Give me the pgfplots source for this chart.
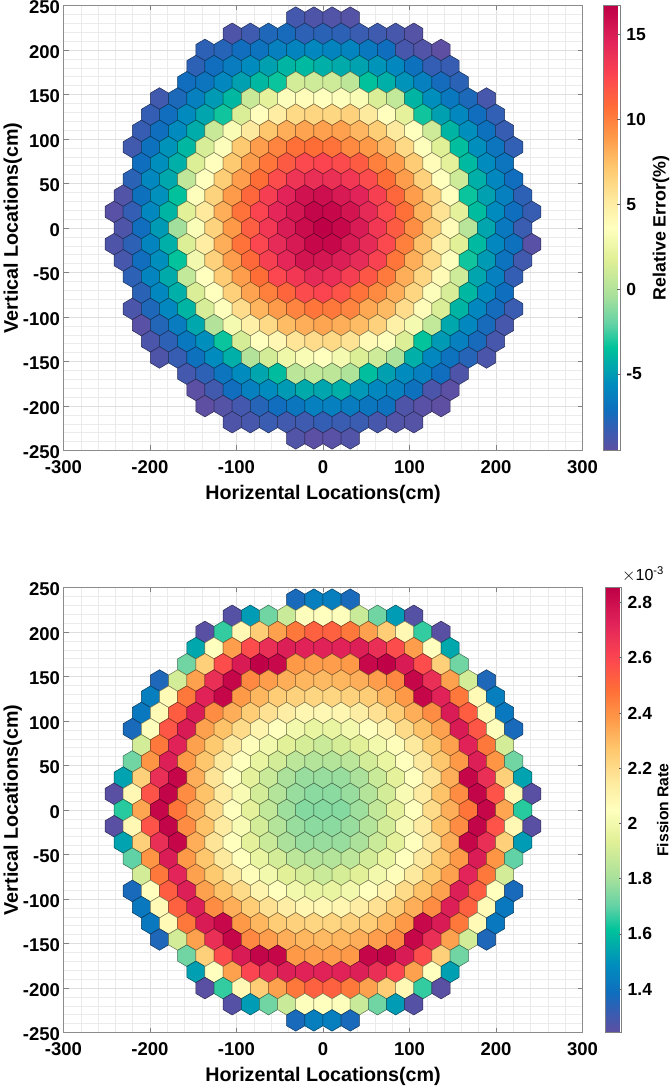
\documentclass[border=0pt]{standalone}
\usepackage{fontspec}
\setmainfont{Liberation Sans}
\usepackage{pgfplots}
\usepackage{pgfplotstable}
\pgfplotsset{compat=1.18}

% hexagon cell, sized in pt for the axis scale (21 cm pitch)
\pgfdeclareplotmark{hexcell}{%
  \pgfpathmoveto{\pgfpoint{0pt}{10.78pt}}%
  \pgfpathlineto{\pgfpoint{9.09pt}{5.39pt}}%
  \pgfpathlineto{\pgfpoint{9.09pt}{-5.39pt}}%
  \pgfpathlineto{\pgfpoint{0pt}{-10.78pt}}%
  \pgfpathlineto{\pgfpoint{-9.09pt}{-5.39pt}}%
  \pgfpathlineto{\pgfpoint{-9.09pt}{5.39pt}}%
  \pgfpathclose
  \pgfusepathqfillstroke}

\pgfplotsset{
  colormap={spectralr}{
    rgb255(0pt)=(94,79,162) rgb255(52pt)=(50,95,180) rgb255(90pt)=(15,110,190)
    rgb255(150pt)=(0,140,190) rgb255(195pt)=(0,170,170) rgb255(232pt)=(0,195,155)
    rgb255(285pt)=(100,210,165) rgb255(350pt)=(170,225,155) rgb255(430pt)=(225,240,150)
    rgb255(500pt)=(255,255,190) rgb255(560pt)=(254,235,160) rgb255(635pt)=(254,200,110)
    rgb255(710pt)=(254,150,70) rgb255(770pt)=(255,110,55) rgb255(840pt)=(252,70,80)
    rgb255(920pt)=(225,35,90) rgb255(1000pt)=(190,0,70)},
  hexaxis/.style={
    scale only axis, width=519pt, height=445pt,
    anchor=south west,
    xmin=-300, xmax=300, ymin=-250, ymax=250,
    xtick={-300,-200,...,300}, ytick={-250,-200,...,250},
    minor x tick num=4, minor y tick num=4,
    grid=both,
    major grid style={black!13, line width=0.6pt},
    minor grid style={black!8, line width=0.5pt},
    tick align=inside, major tick length=5pt, minor tick length=0pt,
    tick style={color=gray, line width=0.7pt},
    axis line style={color=black!45, line width=1.1pt},
    /pgf/number format/assume math mode=true,
    tick label style={font=\fontsize{18.5}{18.5}\selectfont\bfseries},
    xticklabel style={yshift=-7pt},
    yticklabel style={yshift=-2pt},
    label style={font=\fontsize{19.7}{19.7}\selectfont\bfseries},
    xlabel={Horizental Locations(cm)},
    ylabel={Vertical Locations(cm)},
    xlabel shift=4pt, ylabel shift=-6pt,
    scatter/use mapped color={draw=mapped color!50!black, fill=mapped color},
  },
  cbstyle/.style={
    anchor=north west, width=17pt,
    /pgf/number format/assume math mode=true,
    tick align=inside, major tick length=3pt,
    tick style={color=black!60, line width=0.7pt},
    axis line style={color=black!50, line width=0.8pt},
    ytick pos=right, yticklabel pos=right,
    tick label style={font=\fontsize{17.5}{17.5}\selectfont\bfseries},
    yticklabel style={xshift=2.5pt},
    ylabel shift=0pt,
  },
}

% x y, relative error (%), fission rate (1e-3)
\pgfplotstableread{
x y err rate
-31.5 236.4 -8.7 1.37
-10.5 236.4 -9.0 1.44
10.5 236.4 -9.1 1.44
31.5 236.4 -9.2 1.37
-105 218.2 -9.0 1.26
-84 218.2 -8.5 1.52
-63 218.2 -7.6 1.72
-42 218.2 -7.4 1.88
-21 218.2 -8.0 2.04
0 218.2 -7.9 2.05
21 218.2 -8.0 2.04
42 218.2 -8.4 1.88
63 218.2 -8.5 1.72
84 218.2 -8.8 1.52
105 218.2 -9.2 1.26
-136.5 200.1 -8.0 1.25
-115.5 200.1 -7.8 1.66
-94.5 200.1 -7.2 2.08
-73.5 200.1 -6.9 2.25
-52.5 200.1 -6.2 2.36
-31.5 200.1 -6.0 2.46
-10.5 200.1 -5.8 2.52
10.5 200.1 -6.0 2.52
31.5 200.1 -6.0 2.46
52.5 200.1 -6.6 2.36
73.5 200.1 -7.1 2.25
94.5 200.1 -8.8 2.08
115.5 200.1 -9.1 1.66
136.5 200.1 -9.5 1.25
-147 181.9 -8.0 1.55
-126 181.9 -7.2 2.05
-105 181.9 -6.4 2.37
-84 181.9 -5.6 2.58
-63 181.9 -4.8 2.68
-42 181.9 -4.0 2.74
-21 181.9 -3.8 2.73
0 181.9 -4.2 2.73
21 181.9 -4.4 2.73
42 181.9 -4.7 2.74
63 181.9 -5.2 2.68
84 181.9 -5.8 2.58
105 181.9 -7.0 2.37
126 181.9 -8.2 2.05
147 181.9 -8.3 1.55
-157.5 163.7 -7.2 1.72
-136.5 163.7 -6.8 2.24
-115.5 163.7 -5.8 2.58
-94.5 163.7 -4.8 2.76
-73.5 163.7 -3.9 2.85
-52.5 163.7 -3.3 2.82
-31.5 163.7 1.2 2.38
-10.5 163.7 1.0 2.37
10.5 163.7 1.0 2.37
31.5 163.7 0.4 2.38
52.5 163.7 -3.5 2.82
73.5 163.7 -4.2 2.85
94.5 163.7 -5.3 2.76
115.5 163.7 -6.2 2.58
136.5 163.7 -7.3 2.24
157.5 163.7 -7.9 1.72
-189 145.5 -8.6 1.36
-168 145.5 -7.5 1.90
-147 145.5 -6.2 2.36
-126 145.5 -5.0 2.68
-105 145.5 -3.9 2.83
-84 145.5 0.8 2.42
-63 145.5 2.0 2.37
-42 145.5 3.4 2.33
-21 145.5 3.8 2.31
0 145.5 3.6 2.30
21 145.5 3.5 2.31
42 145.5 3.2 2.33
63 145.5 1.5 2.37
84 145.5 0.6 2.42
105 145.5 -4.0 2.83
126 145.5 -5.5 2.68
147 145.5 -6.6 2.36
168 145.5 -7.5 1.90
189 145.5 -8.8 1.36
-199.5 127.3 -8.2 1.44
-178.5 127.3 -7.2 2.07
-157.5 127.3 -5.7 2.46
-136.5 127.3 -4.6 2.73
-115.5 127.3 -3.2 2.83
-94.5 127.3 1.5 2.38
-73.5 127.3 3.7 2.31
-52.5 127.3 5.0 2.25
-31.5 127.3 6.2 2.23
-10.5 127.3 6.4 2.22
10.5 127.3 6.3 2.22
31.5 127.3 6.6 2.23
52.5 127.3 5.2 2.25
73.5 127.3 3.7 2.31
94.5 127.3 2.0 2.38
115.5 127.3 -3.2 2.83
136.5 127.3 -4.8 2.73
157.5 127.3 -5.8 2.46
178.5 127.3 -7.2 2.07
199.5 127.3 -8.1 1.44
-210 109.1 -8.3 1.42
-189 109.1 -7.1 2.07
-168 109.1 -5.7 2.53
-147 109.1 -4.3 2.75
-126 109.1 0.8 2.41
-105 109.1 3.2 2.33
-84 109.1 5.2 2.25
-63 109.1 7.2 2.18
-42 109.1 8.2 2.13
-21 109.1 8.6 2.09
0 109.1 8.7 2.08
21 109.1 8.7 2.09
42 109.1 7.8 2.13
63 109.1 6.8 2.18
84 109.1 5.2 2.25
105 109.1 3.6 2.33
126 109.1 1.0 2.41
147 109.1 -4.0 2.75
168 109.1 -5.5 2.53
189 109.1 -7.0 2.07
210 109.1 -8.3 1.42
-220.5 90.9 -8.6 1.37
-199.5 90.9 -7.0 2.04
-178.5 90.9 -5.3 2.55
-157.5 90.9 -3.9 2.76
-136.5 90.9 1.4 2.36
-115.5 90.9 3.4 2.28
-94.5 90.9 7.0 2.20
-73.5 90.9 8.8 2.10
-52.5 90.9 9.8 2.05
-31.5 90.9 10.6 2.00
-10.5 90.9 10.7 1.97
10.5 90.9 10.5 1.97
31.5 90.9 9.6 2.00
52.5 90.9 9.0 2.05
73.5 90.9 7.8 2.10
94.5 90.9 6.2 2.20
115.5 90.9 3.5 2.28
136.5 90.9 1.7 2.36
157.5 90.9 -3.6 2.76
178.5 90.9 -5.5 2.55
199.5 90.9 -6.8 2.04
220.5 90.9 -8.1 1.37
-210 72.7 -7.1 1.90
-189 72.7 -5.5 2.46
-168 72.7 -4.2 2.73
-147 72.7 1.6 2.36
-126 72.7 3.7 2.26
-105 72.7 7.0 2.15
-84 72.7 8.8 2.06
-63 72.7 10.4 2.00
-42 72.7 11.6 1.94
-21 72.7 12.4 1.91
0 72.7 12.6 1.88
21 72.7 12.3 1.91
42 72.7 11.5 1.94
63 72.7 10.0 2.00
84 72.7 8.8 2.06
105 72.7 6.9 2.15
126 72.7 3.8 2.26
147 72.7 2.0 2.36
168 72.7 -3.8 2.73
189 72.7 -5.6 2.46
210 72.7 -6.8 1.90
-220.5 54.6 -7.9 1.72
-199.5 54.6 -5.8 2.39
-178.5 54.6 -4.5 2.74
-157.5 54.6 0.5 2.38
-136.5 54.6 3.6 2.27
-115.5 54.6 6.8 2.15
-94.5 54.6 8.8 2.05
-73.5 54.6 10.7 1.97
-52.5 54.6 12.2 1.90
-31.5 54.6 13.5 1.85
-10.5 54.6 13.9 1.83
10.5 54.6 13.8 1.83
31.5 54.6 13.4 1.85
52.5 54.6 12.3 1.90
73.5 54.6 10.7 1.97
94.5 54.6 8.8 2.05
115.5 54.6 6.6 2.15
136.5 54.6 3.6 2.27
157.5 54.6 1.0 2.38
178.5 54.6 -4.2 2.74
199.5 54.6 -5.8 2.39
220.5 54.6 -7.2 1.72
-231 36.4 -9.1 1.54
-210 36.4 -7.0 2.24
-189 36.4 -5.4 2.68
-168 36.4 -3.5 2.83
-147 36.4 3.5 2.33
-126 36.4 6.5 2.17
-105 36.4 8.9 2.05
-84 36.4 11.0 1.95
-63 36.4 13.0 1.88
-42 36.4 14.6 1.81
-21 36.4 15.6 1.78
0 36.4 15.8 1.78
21 36.4 15.2 1.78
42 36.4 14.6 1.81
63 36.4 12.9 1.88
84 36.4 11.0 1.95
105 36.4 8.8 2.05
126 36.4 6.6 2.17
147 36.4 3.6 2.33
168 36.4 -3.3 2.83
189 36.4 -4.8 2.68
210 36.4 -6.2 2.24
231 36.4 -8.0 1.54
-241.5 18.2 -9.3 1.25
-220.5 18.2 -8.2 2.08
-199.5 18.2 -5.8 2.56
-178.5 18.2 -4.0 2.84
-157.5 18.2 1.8 2.41
-136.5 18.2 5.3 2.28
-115.5 18.2 8.2 2.14
-94.5 18.2 10.5 2.02
-73.5 18.2 12.6 1.90
-52.5 18.2 14.4 1.83
-31.5 18.2 15.4 1.78
-10.5 18.2 16.4 1.76
10.5 18.2 16.2 1.76
31.5 18.2 15.5 1.78
52.5 18.2 14.2 1.83
73.5 18.2 12.4 1.90
94.5 18.2 10.6 2.02
115.5 18.2 8.0 2.14
136.5 18.2 5.6 2.28
157.5 18.2 2.0 2.41
178.5 18.2 -3.7 2.84
199.5 18.2 -5.6 2.56
220.5 18.2 -7.1 2.08
241.5 18.2 -8.3 1.25
-231 0 -9.0 1.65
-210 0 -7.2 2.35
-189 0 -5.0 2.83
-168 0 -0.5 2.47
-147 0 3.3 2.33
-126 0 6.5 2.20
-105 0 9.0 2.05
-84 0 11.4 1.95
-63 0 13.4 1.86
-42 0 15.0 1.79
-21 0 16.0 1.75
0 0 16.7 1.75
21 0 16.2 1.75
42 0 15.1 1.79
63 0 13.4 1.86
84 0 11.5 1.95
105 0 9.4 2.05
126 0 6.8 2.20
147 0 3.8 2.33
168 0 0.2 2.47
189 0 -4.6 2.83
210 0 -6.6 2.35
231 0 -8.4 1.65
-241.5 -18.2 -9.0 1.25
-220.5 -18.2 -8.0 2.08
-199.5 -18.2 -6.0 2.56
-178.5 -18.2 -4.2 2.84
-157.5 -18.2 1.6 2.41
-136.5 -18.2 5.0 2.28
-115.5 -18.2 8.2 2.14
-94.5 -18.2 10.5 2.02
-73.5 -18.2 12.5 1.90
-52.5 -18.2 14.1 1.83
-31.5 -18.2 15.2 1.78
-10.5 -18.2 16.2 1.76
10.5 -18.2 16.2 1.76
31.5 -18.2 15.2 1.78
52.5 -18.2 14.2 1.83
73.5 -18.2 12.4 1.90
94.5 -18.2 10.0 2.02
115.5 -18.2 7.4 2.14
136.5 -18.2 4.8 2.28
157.5 -18.2 1.8 2.41
178.5 -18.2 -3.8 2.84
199.5 -18.2 -5.8 2.56
220.5 -18.2 -7.0 2.08
241.5 -18.2 -9.3 1.25
-231 -36.4 -8.8 1.54
-210 -36.4 -7.2 2.24
-189 -36.4 -5.5 2.68
-168 -36.4 -3.4 2.83
-147 -36.4 2.8 2.33
-126 -36.4 6.6 2.17
-105 -36.4 8.8 2.05
-84 -36.4 10.9 1.95
-63 -36.4 12.9 1.88
-42 -36.4 14.4 1.81
-21 -36.4 15.5 1.78
0 -36.4 15.4 1.78
21 -36.4 14.9 1.78
42 -36.4 14.1 1.81
63 -36.4 12.8 1.88
84 -36.4 10.4 1.95
105 -36.4 8.2 2.05
126 -36.4 6.2 2.17
147 -36.4 3.5 2.33
168 -36.4 -3.2 2.83
189 -36.4 -5.0 2.68
210 -36.4 -6.9 2.24
231 -36.4 -8.6 1.52
-220.5 -54.6 -8.0 1.70
-199.5 -54.6 -6.0 2.39
-178.5 -54.6 -4.4 2.75
-157.5 -54.6 0.6 2.38
-136.5 -54.6 3.6 2.27
-115.5 -54.6 6.9 2.15
-94.5 -54.6 8.8 2.05
-73.5 -54.6 10.7 1.97
-52.5 -54.6 12.5 1.90
-31.5 -54.6 13.4 1.85
-10.5 -54.6 14.2 1.83
10.5 -54.6 14.0 1.83
31.5 -54.6 13.0 1.85
52.5 -54.6 11.8 1.90
73.5 -54.6 10.2 1.97
94.5 -54.6 8.2 2.05
115.5 -54.6 6.4 2.15
136.5 -54.6 4.0 2.27
157.5 -54.6 1.0 2.38
178.5 -54.6 -4.6 2.75
199.5 -54.6 -6.2 2.39
220.5 -54.6 -8.2 1.70
-210 -72.7 -7.9 1.90
-189 -72.7 -5.8 2.46
-168 -72.7 -4.2 2.72
-147 -72.7 1.5 2.36
-126 -72.7 3.6 2.26
-105 -72.7 6.7 2.15
-84 -72.7 8.6 2.06
-63 -72.7 10.0 2.00
-42 -72.7 11.1 1.94
-21 -72.7 12.3 1.91
0 -72.7 12.6 1.88
21 -72.7 11.9 1.91
42 -72.7 10.5 1.94
63 -72.7 9.6 2.00
84 -72.7 8.2 2.06
105 -72.7 6.4 2.15
126 -72.7 3.4 2.26
147 -72.7 1.4 2.36
168 -72.7 -3.9 2.72
189 -72.7 -5.7 2.46
210 -72.7 -7.1 1.90
-220.5 -90.9 -8.9 1.37
-199.5 -90.9 -7.6 2.05
-178.5 -90.9 -5.8 2.53
-157.5 -90.9 -4.0 2.74
-136.5 -90.9 1.4 2.36
-115.5 -90.9 3.5 2.28
-94.5 -90.9 6.0 2.20
-73.5 -90.9 7.9 2.10
-52.5 -90.9 8.9 2.05
-31.5 -90.9 9.8 2.00
-10.5 -90.9 10.4 1.97
10.5 -90.9 10.3 1.97
31.5 -90.9 9.8 2.00
52.5 -90.9 8.4 2.05
73.5 -90.9 7.7 2.10
94.5 -90.9 6.0 2.20
115.5 -90.9 3.8 2.28
136.5 -90.9 1.5 2.36
157.5 -90.9 -4.0 2.74
178.5 -90.9 -5.8 2.53
199.5 -90.9 -7.3 2.05
220.5 -90.9 -8.4 1.37
-210 -109.1 -9.3 1.42
-189 -109.1 -7.7 2.07
-168 -109.1 -6.4 2.52
-147 -109.1 -4.5 2.74
-126 -109.1 0.0 2.41
-105 -109.1 3.0 2.33
-84 -109.1 4.8 2.25
-63 -109.1 6.2 2.18
-42 -109.1 7.6 2.13
-21 -109.1 8.2 2.09
0 -109.1 8.5 2.08
21 -109.1 8.2 2.09
42 -109.1 7.6 2.13
63 -109.1 6.6 2.18
84 -109.1 4.8 2.25
105 -109.1 3.0 2.33
126 -109.1 0.6 2.41
147 -109.1 -4.5 2.74
168 -109.1 -5.8 2.52
189 -109.1 -7.4 2.07
210 -109.1 -8.8 1.42
-199.5 -127.3 -8.9 1.42
-178.5 -127.3 -8.0 2.07
-157.5 -127.3 -6.6 2.46
-136.5 -127.3 -5.5 2.76
-115.5 -127.3 -3.3 2.82
-94.5 -127.3 1.3 2.38
-73.5 -127.3 3.6 2.31
-52.5 -127.3 4.2 2.25
-31.5 -127.3 5.5 2.23
-10.5 -127.3 6.0 2.22
10.5 -127.3 6.2 2.22
31.5 -127.3 5.6 2.23
52.5 -127.3 4.0 2.25
73.5 -127.3 3.5 2.31
94.5 -127.3 1.6 2.38
115.5 -127.3 -3.4 2.82
136.5 -127.3 -5.0 2.76
157.5 -127.3 -6.2 2.46
178.5 -127.3 -7.4 2.07
199.5 -127.3 -8.8 1.42
-189 -145.5 -9.0 1.36
-168 -145.5 -8.3 1.90
-147 -145.5 -7.0 2.36
-126 -145.5 -5.6 2.68
-105 -145.5 -4.2 2.83
-84 -145.5 0.0 2.42
-63 -145.5 1.2 2.37
-42 -145.5 2.6 2.33
-21 -145.5 3.2 2.31
0 -145.5 3.6 2.30
21 -145.5 3.0 2.31
42 -145.5 1.6 2.33
63 -145.5 1.0 2.37
84 -145.5 -0.2 2.42
105 -145.5 -4.2 2.83
126 -145.5 -5.8 2.68
147 -145.5 -6.9 2.36
168 -145.5 -7.8 1.90
189 -145.5 -8.9 1.36
-157.5 -163.7 -8.7 1.72
-136.5 -163.7 -8.0 2.24
-115.5 -163.7 -6.8 2.58
-94.5 -163.7 -5.6 2.76
-73.5 -163.7 -4.6 2.84
-52.5 -163.7 -3.7 2.83
-31.5 -163.7 0.3 2.38
-10.5 -163.7 0.6 2.37
10.5 -163.7 0.4 2.37
31.5 -163.7 -0.1 2.38
52.5 -163.7 -3.6 2.83
73.5 -163.7 -4.8 2.84
94.5 -163.7 -5.6 2.76
115.5 -163.7 -6.2 2.58
136.5 -163.7 -7.2 2.24
157.5 -163.7 -9.0 1.72
-147 -181.9 -9.4 1.53
-126 -181.9 -8.6 2.05
-105 -181.9 -7.2 2.36
-84 -181.9 -6.2 2.60
-63 -181.9 -5.6 2.68
-42 -181.9 -5.0 2.74
-21 -181.9 -4.4 2.73
0 -181.9 -4.6 2.73
21 -181.9 -4.2 2.73
42 -181.9 -5.1 2.74
63 -181.9 -5.8 2.68
84 -181.9 -6.2 2.60
105 -181.9 -7.0 2.36
126 -181.9 -8.9 2.05
147 -181.9 -9.4 1.53
-136.5 -200.1 -9.5 1.25
-115.5 -200.1 -9.2 1.66
-94.5 -200.1 -8.7 2.08
-73.5 -200.1 -7.8 2.25
-52.5 -200.1 -7.2 2.36
-31.5 -200.1 -6.7 2.46
-10.5 -200.1 -6.2 2.52
10.5 -200.1 -6.2 2.52
31.5 -200.1 -6.4 2.46
52.5 -200.1 -6.7 2.36
73.5 -200.1 -7.0 2.25
94.5 -200.1 -9.0 2.08
115.5 -200.1 -9.3 1.66
136.5 -200.1 -9.5 1.25
-105 -218.2 -9.0 1.26
-84 -218.2 -8.8 1.52
-63 -218.2 -8.4 1.72
-42 -218.2 -8.6 1.88
-21 -218.2 -8.5 2.04
0 -218.2 -8.2 2.05
21 -218.2 -8.4 2.04
42 -218.2 -8.4 1.88
63 -218.2 -8.8 1.72
84 -218.2 -9.1 1.52
105 -218.2 -9.2 1.26
-31.5 -236.4 -9.1 1.37
-10.5 -236.4 -9.4 1.44
10.5 -236.4 -9.3 1.44
31.5 -236.4 -9.1 1.37
}\cells

\begin{document}
\begin{tikzpicture}
  \path[use as bounding box] (0pt,0pt) rectangle (671pt,1086pt);

  \begin{axis}[hexaxis, at={(63.5pt,635.5pt)},
    point meta min=-9.5, point meta max=16.7,
    colorbar,
    colorbar style={cbstyle, at={(1.04,1)}, ytick={-5,0,...,15},
      ylabel={Relative Error(\%)},
      ylabel style={font=\fontsize{17.8}{17.8}\selectfont\bfseries}},
  ]
    \addplot[scatter, only marks, mark=hexcell, line width=0.5pt, scatter src=explicit]
      table[x=x, y=y, meta=err] {\cells};
  \end{axis}

  \begin{axis}[hexaxis, at={(63.5pt,53.5pt)},
    point meta min=1.243, point meta max=2.854,
    colorbar,
    colorbar style={cbstyle, at={(1.0447,1)}, width=16pt, ytick={1.4,1.6,...,2.8},
      ylabel={Fission Rate}, ylabel shift=-2pt,
      ylabel style={font=\fontsize{15.7}{15.7}\selectfont\bfseries}},
  ]
    \addplot[scatter, only marks, mark=hexcell, line width=0.5pt, scatter src=explicit]
      table[x=x, y=y, meta=rate] {\cells};
  \end{axis}

  \node[anchor=base west, inner sep=0pt, font=\fontsize{16}{16}\selectfont] at (622pt,505pt) {$\times$10\textsuperscript{-3}};
\end{tikzpicture}
\end{document}
